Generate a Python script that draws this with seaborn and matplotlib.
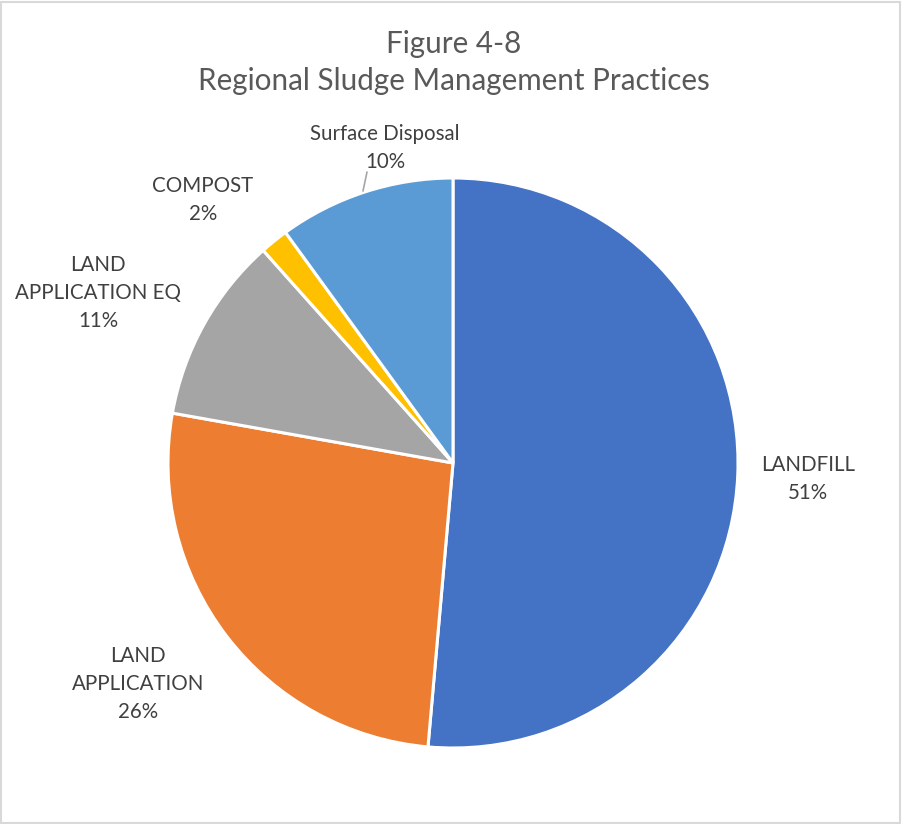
import matplotlib
matplotlib.use("Agg")
import matplotlib.pyplot as plt
import seaborn as sns

# Share of regional sludge by management practice (percent)
practices = ["LANDFILL", "LAND APPLICATION", "LAND APPLICATION EQ", "COMPOST", "Surface Disposal"]
shares = [51.4, 26.4, 10.6, 1.6, 10.0]
label_texts = ["LANDFILL", "LAND\nAPPLICATION", "LAND\nAPPLICATION EQ", "COMPOST", "Surface Disposal"]

sns.set_theme(style="white")
plt.rcParams["font.family"] = ["Lato", "DejaVu Sans"]

colors = ["#4472C4", "#ED7D31", "#A5A5A5", "#FFC000", "#5B9BD5"]

W, H = 903, 824
fig = plt.figure(figsize=(W / 100, H / 100), dpi=100)
ax = fig.add_axes([0, 0, 1, 1])

cx, cy, r = 453, H - 463, 285
ax.pie(shares, colors=colors, startangle=90, counterclock=False,
       center=(cx, cy), radius=r, frame=True,
       wedgeprops=dict(edgecolor="white", linewidth=2.2))
ax.set_xlim(0, W)
ax.set_ylim(0, H)
ax.set_aspect("equal")
ax.axis("off")

# label anchor points (pixel coordinates from the top-left)
label_pos = [(808, 479), (138, 684), (98, 293), (203, 200), (385, 148)]
text_color = "#404040"
for txt, val, (px, py) in zip(label_texts, shares, label_pos):
    ax.text(px, H - py, f"{txt}\n{round(val):.0f}%", ha="center", va="center",
            fontsize=14.8, color=text_color, linespacing=1.5)

# leader line for the small surface-disposal label
ax.plot([363, 367], [H - 191, H - 172], color="#A6A6A6", lw=1.2)

# chart title
ax.text(453.5, H - 62.5, "Figure 4-8\nRegional Sludge Management Practices",
        ha="center", va="center", fontsize=21.3, color="#595959", linespacing=1.38)

# light outer frame
ax.add_patch(plt.Rectangle((1.5, 1.5), W - 4, H - 3, fill=False,
                           edgecolor="#D9D9D9", lw=1.5))

fig.savefig("out.png", dpi=100, facecolor="white")
